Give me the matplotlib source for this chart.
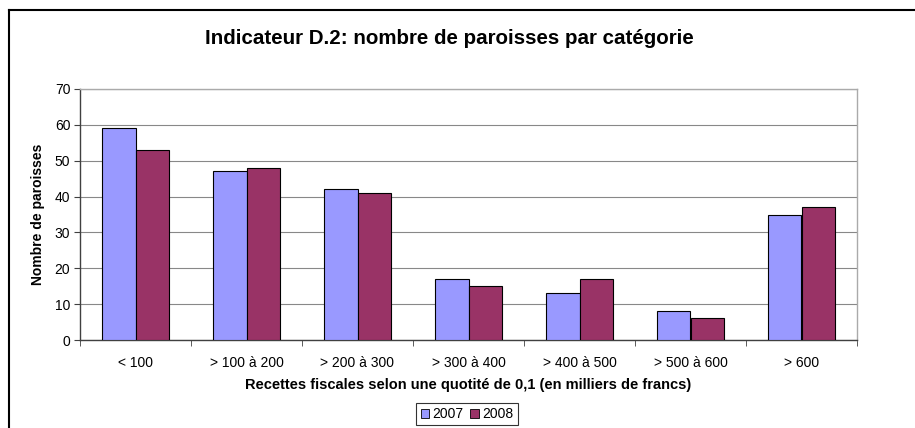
import matplotlib
matplotlib.use("Agg")
import matplotlib.pyplot as plt
import numpy as np
from matplotlib.lines import Line2D

categories = ["< 100", "> 100 à 200", "> 200 à 300", "> 300 à 400", "> 400 à 500", "> 500 à 600", "> 600"]
series_names = ["2007", "2008"]
values_2007 = [59, 47, 42, 17, 13, 8, 35]
values_2008 = [53, 48, 41, 15, 17, 6, 37]
y_ticks = [0, 10, 20, 30, 40, 50, 60, 70]

plt.rcParams['font.family'] = ['Liberation Sans', 'DejaVu Sans']

fig = plt.figure(figsize=(9.15, 4.28), dpi=100)
ax = fig.add_axes([80/915, 1-340/428, 777/915, 251/428])

x = np.arange(len(categories))
w = 0.3
ax.bar(x - w/2, values_2007, width=w, color="#9999FF", edgecolor="black", linewidth=0.8, label=series_names[0], zorder=3)
ax.bar(x + w/2, values_2008, width=w, color="#993366", edgecolor="black", linewidth=0.8, label=series_names[1], zorder=3)

ax.set_xlim(-0.5, len(categories) - 0.5)
ax.set_ylim(0, 70)
ax.set_yticks(y_ticks)
ax.set_yticklabels([str(t) for t in y_ticks], fontsize=10)
ax.set_xticks(x)
ax.set_xticklabels(categories, fontsize=10)
ax.tick_params(axis='x', length=0, pad=11.5)
ax.set_xticks(np.arange(len(categories) + 1) - 0.5, minor=True)
ax.tick_params(axis='x', which='minor', length=4, direction='out', color='#404040')
ax.tick_params(axis='y', length=4, direction='out', color='#404040', pad=3)
ax.grid(axis='y', color='#888888', linewidth=0.8, zorder=0)

for s in ['top', 'right']:
    ax.spines[s].set_color('#aaaaaa')
    ax.spines[s].set_linewidth(1.0)
for s in ['left', 'bottom']:
    ax.spines[s].set_color('#404040')
    ax.spines[s].set_linewidth(1.0)

ax.set_ylabel("Nombre de paroisses", fontsize=10, fontweight='bold', labelpad=7)
ax.set_xlabel("Recettes fiscales selon une quotité de 0,1 (en milliers de francs)", fontsize=10.5, fontweight='bold', labelpad=6)

fig.text(449/915, 1-39/428, "Indicateur D.2: nombre de paroisses par catégorie", ha='center', va='center', fontsize=14.8, fontweight='bold')

handles = [plt.Rectangle((0, 0), 1, 1, facecolor="#9999FF", edgecolor="black", linewidth=0.6),
           plt.Rectangle((0, 0), 1, 1, facecolor="#993366", edgecolor="black", linewidth=0.6)]
leg = fig.legend(handles, series_names, loc='center', bbox_to_anchor=(467/915, 1-414/428), ncol=2,
                 fontsize=10, frameon=True, fancybox=False, handlelength=0.6, handleheight=0.6,
                 handletextpad=0.25, columnspacing=0.5, borderpad=0.3, borderaxespad=0)
leg.get_frame().set_edgecolor('black')
leg.get_frame().set_linewidth(0.8)

# outer chart border (extends beyond right/bottom edges)
fig.add_artist(Line2D([8.5/915, 1.0], [1-9.5/428, 1-9.5/428], color='black', linewidth=1.5, transform=fig.transFigure))
fig.add_artist(Line2D([8.5/915, 8.5/915], [0, 1-9.5/428], color='black', linewidth=1.5, transform=fig.transFigure))

fig.savefig("out.png", dpi=100)
